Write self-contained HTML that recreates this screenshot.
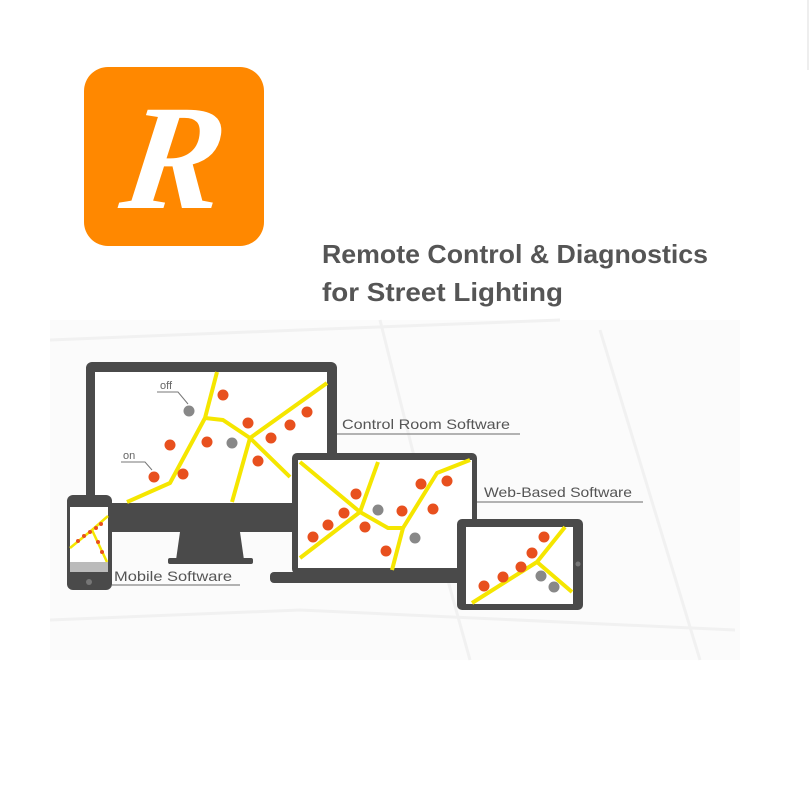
<!DOCTYPE html>
<html><head><meta charset="utf-8"><style>
html,body{margin:0;padding:0;background:#fff;width:810px;height:810px;overflow:hidden}
</style></head><body>
<svg width="810" height="810" viewBox="0 0 810 810" xmlns="http://www.w3.org/2000/svg" font-family="Liberation Sans, sans-serif">
<rect x="0" y="0" width="810" height="810" fill="#fff"/>
<line x1="808" y1="0" x2="808" y2="70" stroke="#ddd" stroke-width="1"/>
<rect x="50" y="320" width="690" height="340" fill="#fbfbfb"/>
<g stroke="#f1f1f1" stroke-width="3" fill="none">
<path d="M50 340 L300 330 L560 320"/><path d="M380 320 L420 480 L470 660"/><path d="M600 330 L700 660"/><path d="M50 620 L300 610 L735 630"/>
</g>
<!-- logo -->
<rect x="84" y="67" width="180" height="179" rx="24" fill="#FF8800"/>
<text x="172" y="208" font-family="Liberation Serif, serif" font-style="italic" font-weight="bold" font-size="150" fill="#fff" text-anchor="middle" transform="skewX(-8) translate(25,0)">R</text>
<!-- title -->
<text x="322" y="263" font-size="26" font-weight="bold" fill="#555" textLength="386" lengthAdjust="spacingAndGlyphs">Remote Control &amp; Diagnostics</text>
<text x="322" y="301" font-size="26" font-weight="bold" fill="#555" textLength="241" lengthAdjust="spacingAndGlyphs">for Street Lighting</text>
<!-- monitor -->
<rect x="86" y="362" width="251" height="170" rx="6" fill="#4a4a4a"/>
<rect x="95" y="372" width="232" height="131" fill="#fff"/>
<path d="M180 532 L240 532 L244 560 L176 560 Z" fill="#4a4a4a"/>
<rect x="168" y="558" width="85" height="6" rx="2" fill="#4a4a4a"/>
<g stroke="#f5e600" stroke-width="4" fill="none" stroke-linejoin="round">
<path d="M217 372 L205 418 L170 483 L127 502"/>
<path d="M205 418 L223 420 L250 438 L290 477"/>
<path d="M327 383 L250 438 L232 502"/>
</g>
<g fill="#e8501e">
<circle cx="223" cy="395" r="5.5"/><circle cx="248" cy="423" r="5.5"/><circle cx="170" cy="445" r="5.5"/><circle cx="207" cy="442" r="5.5"/><circle cx="307" cy="412" r="5.5"/><circle cx="290" cy="425" r="5.5"/><circle cx="271" cy="438" r="5.5"/><circle cx="258" cy="461" r="5.5"/><circle cx="183" cy="474" r="5.5"/><circle cx="154" cy="477" r="5.5"/>
</g>
<g fill="#888"><circle cx="189" cy="411" r="5.5"/><circle cx="232" cy="443" r="5.5"/></g>
<g stroke="#777" stroke-width="1" fill="none"><path d="M157 392 L178 392 L188 404"/><path d="M121 462 L145 462 L152 470"/></g>
<text x="160" y="389" font-size="11" fill="#666">off</text>
<text x="123" y="459" font-size="11" fill="#666">on</text>
<!-- laptop -->
<rect x="292" y="453" width="185" height="121" rx="5" fill="#4a4a4a"/>
<rect x="298" y="460" width="174" height="108" fill="#fff"/>
<rect x="270" y="572" width="200" height="11" rx="4" fill="#4a4a4a"/>
<g stroke="#f5e600" stroke-width="4" fill="none" stroke-linejoin="round">
<path d="M300 462 L360 512 L388 528 L403 528 L437 473 L470 460"/>
<path d="M360 512 L300 558"/><path d="M378 462 L360 512"/><path d="M403 528 L392 570"/>
</g>
<g fill="#e8501e">
<circle cx="356" cy="494" r="5.5"/><circle cx="344" cy="513" r="5.5"/><circle cx="328" cy="525" r="5.5"/><circle cx="313" cy="537" r="5.5"/><circle cx="365" cy="527" r="5.5"/><circle cx="386" cy="551" r="5.5"/><circle cx="402" cy="511" r="5.5"/><circle cx="421" cy="484" r="5.5"/><circle cx="447" cy="481" r="5.5"/><circle cx="433" cy="509" r="5.5"/>
</g>
<g fill="#888"><circle cx="378" cy="510" r="5.5"/><circle cx="415" cy="538" r="5.5"/></g>
<!-- tablet -->
<rect x="457" y="519" width="126" height="91" rx="5" fill="#4a4a4a"/>
<rect x="466" y="527" width="107" height="77" fill="#fff"/>
<circle cx="578" cy="564" r="2.5" fill="#777"/>
<g stroke="#f5e600" stroke-width="4" fill="none" stroke-linejoin="round">
<path d="M472 603 L537 562 L565 527"/><path d="M537 562 L572 592"/>
</g>
<g fill="#e8501e"><circle cx="484" cy="586" r="5.5"/><circle cx="503" cy="577" r="5.5"/><circle cx="521" cy="567" r="5.5"/><circle cx="532" cy="553" r="5.5"/><circle cx="544" cy="537" r="5.5"/></g>
<g fill="#888"><circle cx="541" cy="576" r="5.5"/><circle cx="554" cy="587" r="5.5"/></g>
<!-- phone -->
<rect x="67" y="495" width="45" height="95" rx="6" fill="#4a4a4a"/>
<rect x="70" y="507" width="38" height="65" fill="#fff"/>
<rect x="70" y="562" width="38" height="10" fill="#bbb"/>
<circle cx="89" cy="582" r="3" fill="#777"/>
<g stroke="#f5e600" stroke-width="2.5" fill="none"><path d="M70 548 L92 530 L108 516"/><path d="M92 530 L107 562"/></g>
<g fill="#e8501e"><circle cx="78" cy="541" r="2"/><circle cx="84" cy="536" r="2"/><circle cx="90" cy="532" r="2"/><circle cx="96" cy="528" r="2"/><circle cx="101" cy="524" r="2"/><circle cx="98" cy="542" r="2"/><circle cx="102" cy="552" r="2"/></g>
<!-- labels -->
<g stroke="#999" stroke-width="1.5"><line x1="337" y1="434" x2="520" y2="434"/><line x1="477" y1="502" x2="643" y2="502"/><line x1="112" y1="585" x2="240" y2="585"/></g>
<text x="342" y="429" font-size="14" fill="#555" textLength="168" lengthAdjust="spacingAndGlyphs">Control Room Software</text>
<text x="484" y="497" font-size="14" fill="#555" textLength="148" lengthAdjust="spacingAndGlyphs">Web-Based Software</text>
<text x="114" y="581" font-size="14" fill="#555" textLength="118" lengthAdjust="spacingAndGlyphs">Mobile Software</text>
</svg>
</body></html>
